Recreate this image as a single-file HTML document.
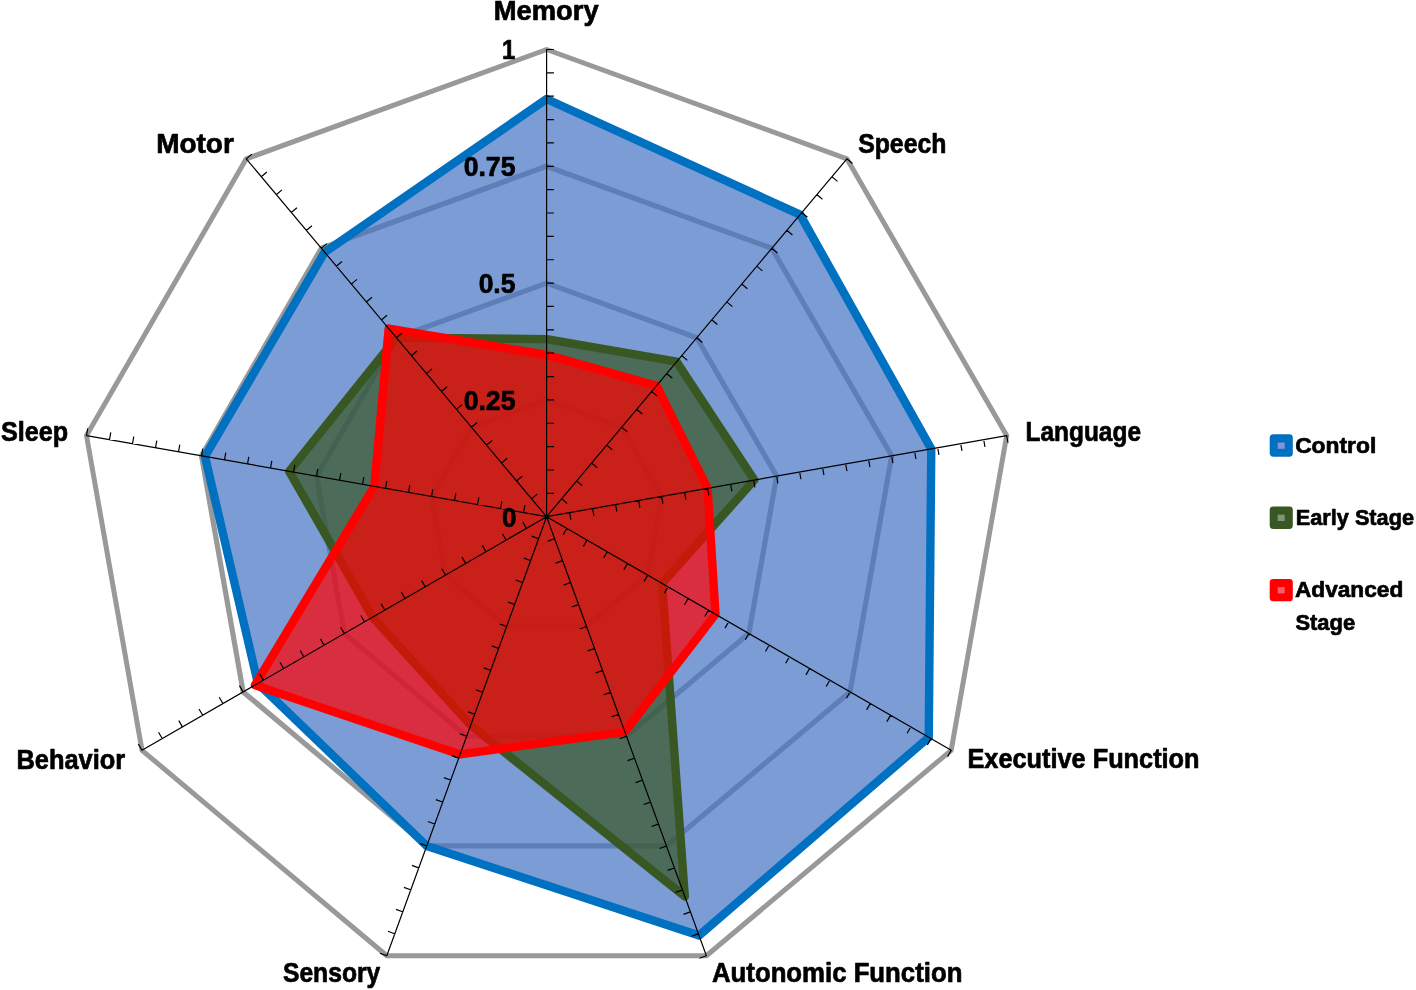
<!DOCTYPE html>
<html lang="en"><head><meta charset="utf-8"><title>Radar chart</title>
<style>html,body{margin:0;padding:0;background:#fff}body{width:1416px;height:990px;overflow:hidden}svg{display:block}</style>
</head><body>
<svg width="1416" height="990" viewBox="0 0 1416 990">
<rect width="1416" height="990" fill="#fff"/>
<polygon points="546.60,399.90 621.68,427.23 661.63,496.42 647.75,575.10 586.55,626.46 506.65,626.46 445.45,575.10 431.57,496.42 471.52,427.23" fill="none" stroke="#999999" stroke-width="5.2" stroke-linejoin="round"/>
<polygon points="546.60,283.10 696.76,337.75 776.65,476.14 748.90,633.50 626.50,736.21 466.70,736.21 344.30,633.50 316.55,476.14 396.44,337.75" fill="none" stroke="#999999" stroke-width="5.2" stroke-linejoin="round"/>
<polygon points="546.60,166.30 771.83,248.28 891.68,455.85 850.06,691.90 666.44,845.97 426.76,845.97 243.14,691.90 201.52,455.85 321.37,248.28" fill="none" stroke="#999999" stroke-width="5.2" stroke-linejoin="round"/>
<polygon points="546.60,49.50 846.91,158.80 1006.70,435.57 951.21,750.30 706.39,955.72 386.81,955.72 141.99,750.30 86.50,435.57 246.29,158.80" fill="none" stroke="#999999" stroke-width="5.0" stroke-linejoin="round"/>
<polygon points="546.60,99.02 800.06,214.64 931.25,448.88 928.75,737.34 699.04,935.53 426.76,845.97 257.91,683.37 204.97,456.46 324.67,252.21" fill="#4472c4" fill-opacity="0.7" stroke="none"/>
<polygon points="546.60,99.02 800.06,214.64 931.25,448.88 928.75,737.34 699.04,935.53 426.76,845.97 257.91,683.37 204.97,456.46 324.67,252.21" fill="none" stroke="#0070c0" stroke-width="8.4" stroke-linejoin="round"/>
<polygon points="546.60,339.16 676.63,361.73 754.34,480.07 662.12,583.39 684.82,896.46 470.70,725.24 372.62,617.15 289.17,471.31 396.44,337.75" fill="#385723" fill-opacity="0.7" stroke="none"/>
<polygon points="546.60,339.16 676.63,361.73 754.34,480.07 662.12,583.39 684.82,896.46 470.70,725.24 372.62,617.15 289.17,471.31 396.44,337.75" fill="none" stroke="#385723" stroke-width="8.4" stroke-linejoin="round"/>
<polygon points="546.60,354.82 656.51,385.71 707.64,488.31 715.52,614.23 624.90,731.82 460.07,754.43 254.88,685.13 374.29,486.32 388.70,328.52" fill="#ff0000" fill-opacity="0.7" stroke="none"/>
<polygon points="546.60,354.82 656.51,385.71 707.64,488.31 715.52,614.23 624.90,731.82 460.07,754.43 254.88,685.13 374.29,486.32 388.70,328.52" fill="none" stroke="#ff0000" stroke-width="8.4" stroke-linejoin="round"/>
<path d="M546.60 516.70L546.60 49.50M546.10 493.34l7.80 0.00M546.10 469.98l7.80 0.00M546.10 446.62l7.80 0.00M546.10 423.26l7.80 0.00M546.10 399.90l7.80 0.00M546.10 376.54l7.80 0.00M546.10 353.18l7.80 0.00M546.10 329.82l7.80 0.00M546.10 306.46l7.80 0.00M546.10 283.10l7.80 0.00M546.10 259.74l7.80 0.00M546.10 236.38l7.80 0.00M546.10 213.02l7.80 0.00M546.10 189.66l7.80 0.00M546.10 166.30l7.80 0.00M546.10 142.94l7.80 0.00M546.10 119.58l7.80 0.00M546.10 96.22l7.80 0.00M546.10 72.86l7.80 0.00M546.10 49.50l7.80 0.00M546.60 516.70L846.91 158.80M561.23 498.48l5.98 5.01M576.25 480.59l5.98 5.01M591.26 462.69l5.98 5.01M606.28 444.80l5.98 5.01M621.29 426.90l5.98 5.01M636.31 409.01l5.98 5.01M651.33 391.12l5.98 5.01M666.34 373.22l5.98 5.01M681.36 355.33l5.98 5.01M696.37 337.43l5.98 5.01M711.39 319.54l5.98 5.01M726.40 301.64l5.98 5.01M741.42 283.75l5.98 5.01M756.43 265.85l5.98 5.01M771.45 247.96l5.98 5.01M786.47 230.06l5.98 5.01M801.48 212.17l5.98 5.01M816.50 194.27l5.98 5.01M831.51 176.38l5.98 5.01M846.53 158.48l5.98 5.01M546.60 516.70L1006.70 435.57M569.52 512.15l1.35 7.68M592.52 508.09l1.35 7.68M615.53 504.04l1.35 7.68M638.53 499.98l1.35 7.68M661.54 495.93l1.35 7.68M684.54 491.87l1.35 7.68M707.55 487.81l1.35 7.68M730.55 483.76l1.35 7.68M753.56 479.70l1.35 7.68M776.56 475.64l1.35 7.68M799.57 471.59l1.35 7.68M822.57 467.53l1.35 7.68M845.58 463.47l1.35 7.68M868.58 459.42l1.35 7.68M891.59 455.36l1.35 7.68M914.59 451.30l1.35 7.68M937.60 447.25l1.35 7.68M960.61 443.19l1.35 7.68M983.61 439.14l1.35 7.68M1006.62 435.08l1.35 7.68M546.60 516.70L951.21 750.30M567.08 527.95l-3.90 6.75M587.31 539.63l-3.90 6.75M607.54 551.31l-3.90 6.75M627.77 562.99l-3.90 6.75M648.00 574.67l-3.90 6.75M668.23 586.35l-3.90 6.75M688.46 598.03l-3.90 6.75M708.69 609.71l-3.90 6.75M728.92 621.39l-3.90 6.75M749.15 633.07l-3.90 6.75M769.38 644.75l-3.90 6.75M789.61 656.43l-3.90 6.75M809.84 668.11l-3.90 6.75M830.07 679.79l-3.90 6.75M850.31 691.47l-3.90 6.75M870.54 703.15l-3.90 6.75M890.77 714.83l-3.90 6.75M911.00 726.51l-3.90 6.75M931.23 738.19l-3.90 6.75M951.46 749.87l-3.90 6.75M546.60 516.70L706.39 955.72M555.06 538.48l-7.33 2.67M563.05 560.43l-7.33 2.67M571.04 582.38l-7.33 2.67M579.03 604.33l-7.33 2.67M587.02 626.29l-7.33 2.67M595.01 648.24l-7.33 2.67M603.00 670.19l-7.33 2.67M610.99 692.14l-7.33 2.67M618.98 714.09l-7.33 2.67M626.97 736.04l-7.33 2.67M634.96 757.99l-7.33 2.67M642.94 779.94l-7.33 2.67M650.93 801.89l-7.33 2.67M658.92 823.85l-7.33 2.67M666.91 845.80l-7.33 2.67M674.90 867.75l-7.33 2.67M682.89 889.70l-7.33 2.67M690.88 911.65l-7.33 2.67M698.87 933.60l-7.33 2.67M706.86 955.55l-7.33 2.67M546.60 516.70L386.81 955.72M539.08 538.82l-7.33 -2.67M531.09 560.77l-7.33 -2.67M523.10 582.72l-7.33 -2.67M515.11 604.68l-7.33 -2.67M507.12 626.63l-7.33 -2.67M499.13 648.58l-7.33 -2.67M491.14 670.53l-7.33 -2.67M483.15 692.48l-7.33 -2.67M475.16 714.43l-7.33 -2.67M467.17 736.38l-7.33 -2.67M459.18 758.33l-7.33 -2.67M451.19 780.29l-7.33 -2.67M443.21 802.24l-7.33 -2.67M435.22 824.19l-7.33 -2.67M427.23 846.14l-7.33 -2.67M419.24 868.09l-7.33 -2.67M411.25 890.04l-7.33 -2.67M403.26 911.99l-7.33 -2.67M395.27 933.94l-7.33 -2.67M387.28 955.90l-7.33 -2.67M546.60 516.70L141.99 750.30M526.62 528.81l-3.90 -6.75M506.39 540.49l-3.90 -6.75M486.16 552.17l-3.90 -6.75M465.93 563.85l-3.90 -6.75M445.70 575.53l-3.90 -6.75M425.47 587.21l-3.90 -6.75M405.24 598.89l-3.90 -6.75M385.01 610.57l-3.90 -6.75M364.78 622.25l-3.90 -6.75M344.55 633.93l-3.90 -6.75M324.32 645.61l-3.90 -6.75M304.09 657.29l-3.90 -6.75M283.86 668.97l-3.90 -6.75M263.63 680.65l-3.90 -6.75M243.39 692.33l-3.90 -6.75M223.16 704.01l-3.90 -6.75M202.93 715.69l-3.90 -6.75M182.70 727.37l-3.90 -6.75M162.47 739.05l-3.90 -6.75M142.24 750.73l-3.90 -6.75M546.60 516.70L86.50 435.57M523.51 513.14l1.35 -7.68M500.50 509.08l1.35 -7.68M477.50 505.02l1.35 -7.68M454.49 500.97l1.35 -7.68M431.49 496.91l1.35 -7.68M408.48 492.85l1.35 -7.68M385.48 488.80l1.35 -7.68M362.47 484.74l1.35 -7.68M339.47 480.68l1.35 -7.68M316.46 476.63l1.35 -7.68M293.46 472.57l1.35 -7.68M270.45 468.52l1.35 -7.68M247.45 464.46l1.35 -7.68M224.44 460.40l1.35 -7.68M201.44 456.35l1.35 -7.68M178.43 452.29l1.35 -7.68M155.43 448.23l1.35 -7.68M132.42 444.18l1.35 -7.68M109.42 440.12l1.35 -7.68M86.41 436.06l1.35 -7.68M546.60 516.70L246.29 158.80M531.20 499.13l5.98 -5.01M516.19 481.23l5.98 -5.01M501.17 463.34l5.98 -5.01M486.15 445.44l5.98 -5.01M471.14 427.55l5.98 -5.01M456.12 409.65l5.98 -5.01M441.11 391.76l5.98 -5.01M426.09 373.86l5.98 -5.01M411.08 355.97l5.98 -5.01M396.06 338.07l5.98 -5.01M381.05 320.18l5.98 -5.01M366.03 302.28l5.98 -5.01M351.02 284.39l5.98 -5.01M336.00 266.49l5.98 -5.01M320.98 248.60l5.98 -5.01M305.97 230.70l5.98 -5.01M290.95 212.81l5.98 -5.01M275.94 194.92l5.98 -5.01M260.92 177.02l5.98 -5.01M245.91 159.13l5.98 -5.01" fill="none" stroke="#000" stroke-width="1.2"/>
<circle cx="546.6" cy="516.7" r="1.6" fill="#000"/>
<g font-family="'Liberation Sans', sans-serif" font-weight="bold" fill="#000" stroke="#000" stroke-width="0.7" stroke-linejoin="round">
<text x="493.71" y="20.00" font-size="27.2" textLength="104.91" lengthAdjust="spacingAndGlyphs">Memory</text>
<text x="858.13" y="152.70" font-size="27.2" textLength="88.31" lengthAdjust="spacingAndGlyphs">Speech</text>
<text x="1025.54" y="440.60" font-size="27.2" textLength="115.47" lengthAdjust="spacingAndGlyphs">Language</text>
<text x="967.49" y="768.30" font-size="27.2" textLength="232.03" lengthAdjust="spacingAndGlyphs">Executive Function</text>
<text x="711.99" y="982.40" font-size="27.2" textLength="250.39" lengthAdjust="spacingAndGlyphs">Autonomic Function</text>
<text x="282.93" y="981.60" font-size="27.2" textLength="97.40" lengthAdjust="spacingAndGlyphs">Sensory</text>
<text x="16.45" y="768.60" font-size="27.2" textLength="108.72" lengthAdjust="spacingAndGlyphs">Behavior</text>
<text x="0.94" y="440.70" font-size="27.2" textLength="67.17" lengthAdjust="spacingAndGlyphs">Sleep</text>
<text x="156.18" y="152.90" font-size="27.2" textLength="77.65" lengthAdjust="spacingAndGlyphs">Motor</text>
<text x="502.10" y="58.70" font-size="27.2" textLength="13.31" lengthAdjust="spacingAndGlyphs">1</text>
<text x="463.67" y="176.10" font-size="27.2" textLength="51.81" lengthAdjust="spacingAndGlyphs">0.75</text>
<text x="478.66" y="292.70" font-size="27.2" textLength="36.79" lengthAdjust="spacingAndGlyphs">0.5</text>
<text x="463.67" y="409.50" font-size="27.2" textLength="51.81" lengthAdjust="spacingAndGlyphs">0.25</text>
<text x="502.00" y="526.60" font-size="27.2" textLength="14.47" lengthAdjust="spacingAndGlyphs">0</text>
<text x="1295.14" y="453.00" font-size="22.8" textLength="81.14" lengthAdjust="spacingAndGlyphs">Control</text>
<text x="1295.79" y="525.00" font-size="22.8" textLength="118.20" lengthAdjust="spacingAndGlyphs">Early Stage</text>
<text x="1294.93" y="597.40" font-size="22.8" textLength="108.38" lengthAdjust="spacingAndGlyphs">Advanced</text>
<text x="1295.44" y="629.90" font-size="22.8" textLength="59.72" lengthAdjust="spacingAndGlyphs">Stage</text>
</g>
<rect x="1269.7" y="434.3" width="23.1" height="22.4" rx="3.4" fill="#0070c0"/>
<rect x="1277.7" y="442.5" width="7.0" height="6.3" fill="#8296d7"/>
<rect x="1269.7" y="506.5" width="23.1" height="22.4" rx="3.4" fill="#385723"/>
<rect x="1277.7" y="514.7" width="7.0" height="6.3" fill="#80967a"/>
<rect x="1269.7" y="578.9" width="23.1" height="22.4" rx="3.4" fill="#ff0000"/>
<rect x="1277.7" y="587.1" width="7.0" height="6.3" fill="#ff5a64"/>
</svg>
</body></html>
